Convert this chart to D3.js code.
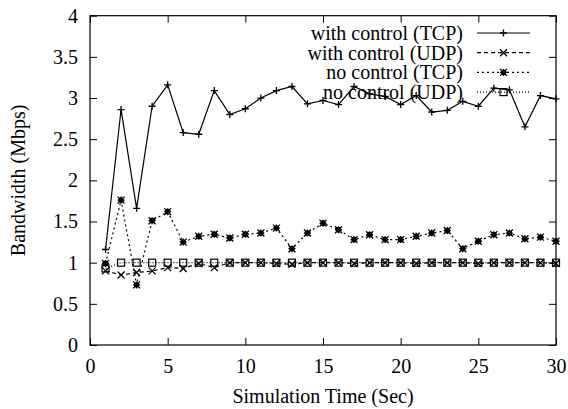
<!DOCTYPE html>
<html><head><meta charset="utf-8">
<script src="https://cdn.jsdelivr.net/npm/d3@7"></script>
<style>body{margin:0;background:#fff}svg{display:block}</style>
</head><body><svg id="c" width="568" height="409"></svg>
<script>
const times = d3.range(1, 31);
const withTCP = [1.16,2.86,1.66,2.90,3.16,2.58,2.56,3.09,2.80,2.87,3.00,3.09,3.14,2.93,2.97,2.92,3.14,3.05,3.02,2.92,3.03,2.83,2.85,2.96,2.90,3.12,3.10,2.65,3.03,2.99];
const withUDP = [0.90,0.85,0.88,0.90,0.94,0.93,0.99,0.94,1.00,1.00,1.00,0.99,0.98,1.00,1.00,1.00,0.99,1.00,1.00,1.00,0.99,1.00,1.00,1.00,0.99,1.00,1.00,1.00,1.00,0.99];
const noTCP = [0.99,1.76,0.73,1.51,1.62,1.25,1.32,1.345,1.30,1.345,1.36,1.42,1.17,1.36,1.48,1.40,1.28,1.34,1.28,1.28,1.32,1.36,1.39,1.17,1.26,1.34,1.36,1.29,1.31,1.26];
const noUDP = [0.93,1,1,1,1,1,1,1,1,1,1,1,1,1,1,1,1,1,1,1,1,1,1,1,1,1,1,1,1,1];
const seriesNames = ["with control (TCP)","with control (UDP)","no control (TCP)","no control (UDP)"];
const xTicks = [0,5,10,15,20,25,30];
const yTicks = [0,0.5,1,1.5,2,2.5,3,3.5,4];

const FONT = "'Liberation Serif', 'Times New Roman', serif";
const svg = d3.select("#c");
const L=90,R=556,T=15.7,B=345;
const x = d3.scaleLinear().domain([0,30]).range([L,R]);
const y = d3.scaleLinear().domain([0,4]).range([B,T]);
const fmt = d3.format("~g");
const tk = 7;

function styleAxis(g, labels){
  g.attr("font-family", null);
  g.select(".domain").remove();
  g.selectAll("line").attr("stroke","#000").attr("stroke-width",1);
  g.selectAll("text").style("font-size","20px").style("font-family",FONT).attr("fill","#000");
  if(!labels) g.selectAll("text").remove();
}
svg.append("g").attr("transform",`translate(0,${B})`)
  .call(d3.axisBottom(x).tickValues(xTicks).tickFormat(fmt).tickSizeInner(-tk).tickSizeOuter(0).tickPadding(14))
  .call(g=>styleAxis(g,true));
svg.append("g").attr("transform",`translate(0,${T})`)
  .call(d3.axisTop(x).tickValues(xTicks).tickSizeInner(-tk).tickSizeOuter(0))
  .call(g=>styleAxis(g,false));
svg.append("g").attr("transform",`translate(${L},0)`)
  .call(d3.axisLeft(y).tickValues(yTicks).tickFormat(fmt).tickSizeInner(-tk).tickSizeOuter(0).tickPadding(12))
  .call(g=>styleAxis(g,true));
svg.append("g").attr("transform",`translate(${R},0)`)
  .call(d3.axisRight(y).tickValues(yTicks).tickSizeInner(-tk).tickSizeOuter(0))
  .call(g=>styleAxis(g,false));
svg.append("rect").attr("x",L).attr("y",T).attr("width",R-L).attr("height",B-T)
  .attr("fill","none").attr("stroke","#000").attr("stroke-width",1.2);

svg.append("text").attr("x",(L+R)/2).attr("y",403).attr("text-anchor","middle")
  .style("font-size","20px").style("font-family",FONT).text("Simulation Time (Sec)");
svg.append("text").attr("transform",`translate(25,${(T+B)/2}) rotate(-90)`).attr("text-anchor","middle")
  .style("font-size","20px").style("font-family",FONT).text("Bandwidth (Mbps)");

const dashes = [null,"4,3","2,3","1,2"];
const data = [withTCP,withUDP,noTCP,noUDP];
function marker(g, type, cx, cy){
  const s=3.5;
  let d;
  if(type===0) d=`M${cx-s},${cy}H${cx+s}M${cx},${cy-s}V${cy+s}`;
  else if(type===1) d=`M${cx-s},${cy-s}L${cx+s},${cy+s}M${cx-s},${cy+s}L${cx+s},${cy-s}`;
  else if(type===2) d=`M${cx-s},${cy-s}L${cx+s},${cy+s}M${cx-s},${cy+s}L${cx+s},${cy-s}M${cx-s},${cy}H${cx+s}M${cx},${cy-s}V${cy+s}M${cx-2},${cy-2}h4v4h-4z`;
  if(type===3){
    g.append("rect").attr("x",cx-s).attr("y",cy-s).attr("width",2*s).attr("height",2*s)
      .attr("fill","none").attr("stroke","#000").attr("stroke-width",1.2);
  } else {
    g.append("path").attr("d",d).attr("fill",type===2?"#000":"none").attr("stroke","#000").attr("stroke-width",1.3);
  }
}
const line = d3.line().x((d,i)=>x(times[i])).y(d=>y(d));
const plot = svg.append("g");
data.forEach((vals,k)=>{
  plot.append("path").attr("d",line(vals)).attr("fill","none").attr("stroke","#000")
    .attr("stroke-width",1.2).attr("stroke-dasharray",dashes[k]);
  vals.forEach((v,i)=>marker(plot,k,x(times[i]),y(v)));
});

// legend
const leg = svg.append("g");
seriesNames.forEach((nm,k)=>{
  const yy = 33 + k*19.7;
  leg.append("text").attr("x",463).attr("y",yy).attr("dy","0.35em").attr("text-anchor","end")
    .style("font-size","20px").style("font-family",FONT).text(nm);
  leg.append("line").attr("x1",477).attr("x2",530).attr("y1",yy).attr("y2",yy)
    .attr("stroke","#000").attr("stroke-width",1.2).attr("stroke-dasharray",dashes[k]);
  marker(leg,k,503.5,yy);
});
</script></body></html>
